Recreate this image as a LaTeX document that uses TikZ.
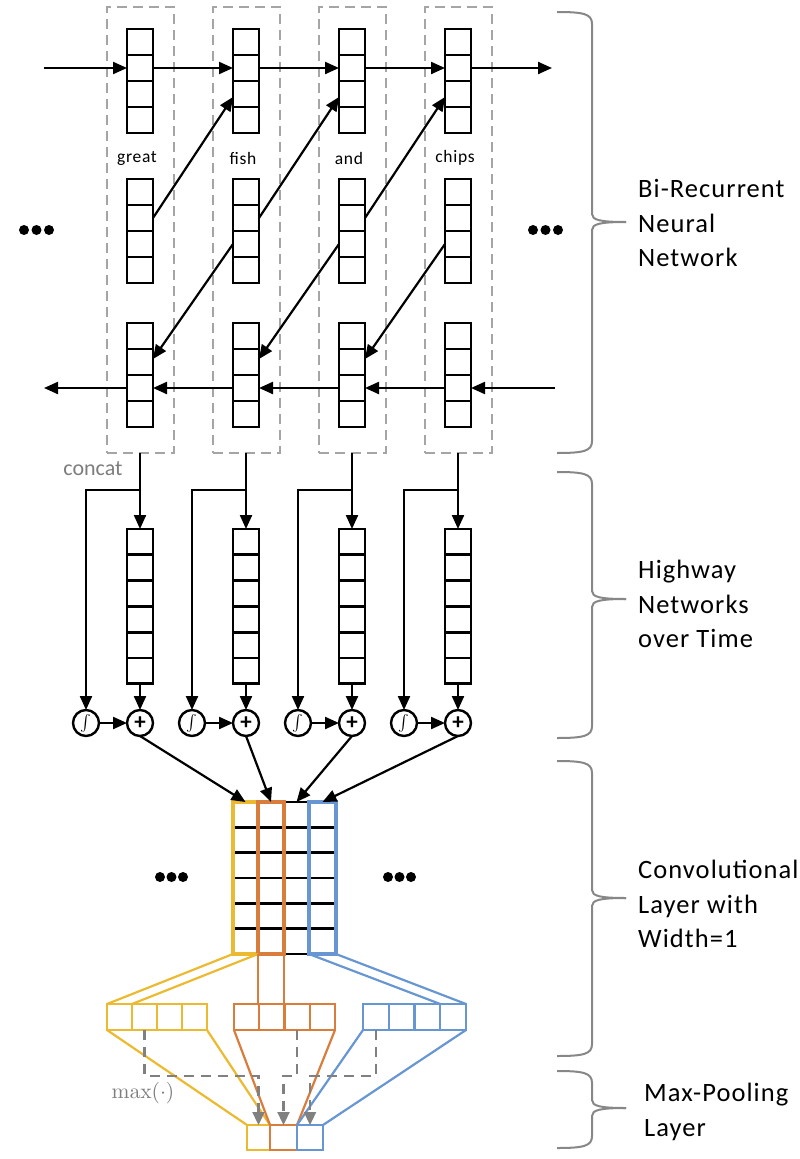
\documentclass[tikz,border=0pt]{standalone}
\usepackage[no-math]{fontspec}
\setmainfont{Carlito}
\usetikzlibrary{arrows.meta,calc}
\definecolor{cyel}{RGB}{236,186,48}
\definecolor{cora}{RGB}{217,125,60}
\definecolor{cblu}{RGB}{104,150,210}
\definecolor{dashgray}{RGB}{165,165,165}
\definecolor{bracegray}{RGB}{135,135,135}
\definecolor{txtgray}{RGB}{125,125,125}
\definecolor{maxgray}{RGB}{128,128,128}

\newcommand\mkstack[5]{%
  \pgfmathsetmacro\stkh{#4*#5}%
  \node[cellbox,minimum height=\stkh pt] (#1) at (#2,{#3+\stkh/2}) {};%
  \pgfmathtruncatemacro\stkn{#4-1}%
  \foreach \k in {1,...,\stkn}{\draw[cellline] ([yshift={-\k*#5}]#1.north west) -- ([yshift={-\k*#5}]#1.north east);}%
}
\newcommand\mkrow[7]{%
  \pgfmathsetmacro\roww{#4*#5}%
  \node[rowbox,draw=#7,minimum width=\roww pt,minimum height=#6pt] (#1) at ({#2+\roww/2},{#3+#6/2}) {};%
  \pgfmathtruncatemacro\rown{#4-1}%
  \foreach \k in {1,...,\rown}{\draw[#7,line width=2.2pt] ([xshift={\k*#5}]#1.north west) -- ([xshift={\k*#5}]#1.south west);}%
}

\begin{document}
\begin{tikzpicture}[x=1pt,y=-1pt,
 cellbox/.style={draw=black,line width=2.8pt,inner sep=0pt,outer sep=0pt,minimum width=26pt},
 cellline/.style={black,line width=2.8pt},
 rowbox/.style={line width=2.2pt,inner sep=0pt,outer sep=0pt},
 arr/.style={line width=2.2pt,-{Triangle[length=14pt,width=12pt]}},
 dbox/.style={draw=dashgray,line width=2pt,dash pattern=on 10pt off 6pt,inner sep=0pt,outer sep=0pt,minimum width=67pt,minimum height=446pt},
 circ/.style={circle,draw,line width=2.4pt,minimum size=26pt,inner sep=0pt,outer sep=0pt},
 bracepath/.style={draw=bracegray,line width=2pt},
 lab/.style={font=\fontsize{26.5}{34.5}\selectfont\addfontfeature{LetterSpace=4},align=left,anchor=west,inner sep=0pt},
 word/.style={font=\fontsize{17.5}{20}\selectfont\addfontfeature{LetterSpace=4},inner sep=0pt},
 colbox/.style={inner sep=0pt,outer sep=0pt,minimum width=#1,minimum height=152pt},
 maxarr/.style={draw=maxgray,line width=2.2pt,dash pattern=on 10pt off 7pt,-{Triangle[length=13pt,width=12pt,fill=maxgray]}},
 colline/.style={line width=2.2pt}
]
\useasboundingbox (0,0) rectangle (800,1159);

% ---------- Bi-RNN ----------
\foreach \i/\w in {0/great,1/fish,2/and,3/chips}{
  \pgfmathsetmacro\X{140+106*\i}
  \node[dbox] (d\i) at (\X,230) {};
  \mkstack{f\i}{\X}{29}{4}{26}
  \mkstack{m\i}{\X}{179}{4}{26}
  \mkstack{b\i}{\X}{323}{4}{26}
  \node[word] (w\i) at ({\X-3},158) {\w};
}
\coordinate (fin) at (44,68);
\coordinate (fout) at (552,68);
\coordinate (bin) at (555,388);
\coordinate (bout) at (44,388);
\draw[arr] (fin) -- ([yshift=-39]f0.north west);
\foreach \i/\j in {0/1,1/2,2/3}{
  \draw[arr] ([yshift=-39]f\i.north east) -- ([yshift=-39]f\j.north west);
  \draw[arr] ([yshift=-39]m\i.north east) -- ([yshift=-68]f\j.north west);
  \draw[arr] ([yshift=-65]m\j.north west) -- ([yshift=-36]b\i.north east);
  \draw[arr] ([yshift=-65]b\j.north west) -- ([yshift=-65]b\i.north east);
}
\draw[arr] ([yshift=-39]f3.north east) -- (fout);
\draw[arr] (bin) -- ([yshift=-65]b3.north east);
\draw[arr] ([yshift=-65]b0.north west) -- (bout);
\foreach \x in {24,36.5,49,533,545.5,558}{\fill (\x,230) circle[radius=5pt];}

% ---------- Highway ----------
\node[font=\fontsize{22}{22}\selectfont,text=txtgray,inner sep=0pt] (concat) at (93,469) {concat};
\foreach \i in {0,1,2,3}{
  \pgfmathsetmacro\X{140+106*\i}
  \mkstack{h\i}{\X}{529}{6}{25.8}
  \node[circ] (s\i) at ({\X-54},723) {\scalebox{1.6}{$\int$}};
  \node[circ] (p\i) at (\X,723) {\fontsize{23}{23}\selectfont\textbf{+}};
  \coordinate (br\i) at (\X,490);
  \draw[arr] (d\i.south) -- (h\i.north);
  \draw[arr] (br\i) -| (s\i.north);
  \draw[arr] (h\i.south) -- (p\i.north);
  \draw[arr] (s\i.east) -- (p\i.west);
}

% ---------- Convolution ----------
\node[colbox=25pt] (c1) at (245.5,878) {};
\node[colbox=26pt] (c2) at (271,878) {};
\node[colbox=25pt] (c3) at (296.5,878) {};
\node[colbox=27pt] (c4) at (322.5,878) {};
\foreach \k in {0,...,6}{
  \draw[cellline] ($(c1.north west)+(0,{\k*152/6})$) -- ($(c4.north east)+(0,{\k*152/6})$);
}
\draw[cyel,line width=3.8pt] (c1.north west) rectangle (c1.south east);
\draw[cora,line width=3.8pt] (c2.north west) rectangle (c2.south east);
\draw[cblu,line width=3.8pt] (c4.north west) rectangle (c4.south east);
\draw[arr] (p0.south) -- (c1.north);
\draw[arr] (p1.south) -- (c2.north);
\draw[arr] (p2.south) -- (c3.north);
\draw[arr] (p3.south) -- (c4.north);
\foreach \x in {160,171.5,183,388,399.5,411}{\fill (\x,877) circle[radius=5pt];}

% feature maps
\mkrow{ym}{107}{1004}{4}{25}{26}{cyel}
\mkrow{om}{234}{1004}{4}{25.25}{26}{cora}
\mkrow{bm}{363}{1004}{4}{25.75}{26}{cblu}
\draw[cyel,colline] (c1.south west) -- (ym.north west);
\draw[cyel,colline] (c1.south east) -- ([xshift=25]ym.north west);
\draw[cora,colline] (c2.south west) -- (c2.south west |- om.north);
\draw[cora,colline] (c2.south east) -- (c2.south east |- om.north);
\draw[cblu,colline] (c4.south west) -- ([xshift=-25.75]bm.north east);
\draw[cblu,colline] (c4.south east) -- (bm.north east);

% pooled
\node[rowbox,draw=cyel,minimum width=23pt,minimum height=25pt] (q1) at (258.5,1137.5) {};
\node[rowbox,draw=cora,minimum width=27pt,minimum height=25pt] (q2) at (283.5,1137.5) {};
\node[rowbox,draw=cblu,minimum width=26pt,minimum height=25pt] (q3) at (310,1137.5) {};
\draw[cyel,colline] (ym.south west) -- (q1.north west);
\draw[cyel,colline] (ym.south east) -- (q1.north east);
\draw[cora,colline] (om.south west) -- (q2.north west);
\draw[cora,colline] (om.south east) -- (q2.north east);
\draw[cblu,colline] (bm.south west) -- (q3.north west);
\draw[cblu,colline] (bm.south east) -- (q3.north east);

% max arrows
\draw[maxarr] ([xshift=37.5]ym.south west) |- ($(q1.north)+(0,-49)$) -- (q1.north);
\draw[maxarr] ([xshift=63.1]om.south west) |- ($(q2.north)+(0,-49)$) -- (q2.north);
\draw[maxarr] ([xshift=12.9]bm.south west) |- ($(q3.north)+(0,-49)$) -- (q3.north);
\node[text=txtgray,inner sep=0pt] (maxlab) at (143,1093) {\scalebox{2.15}{$\max(\cdot)$}};

% ---------- Braces and labels ----------
\foreach \t/\m/\b in {12/222/453, 472/599/738, 761/898/1056, 1071/1108/1148}{
  \draw[bracepath] (557,\t) .. controls (584,\t) and (592,{\t+2}) .. (592,{\t+12}) -- (592,{\m-8}) .. controls (592,{\m-2}) and (600,\m) .. (626,\m);
  \draw[bracepath] (557,\b) .. controls (584,\b) and (592,{\b-2}) .. (592,{\b-12}) -- (592,{\m+8}) .. controls (592,{\m+2}) and (600,\m) .. (626,\m);
}
\node[lab] (l1) at (638,223) {Bi-Recurrent\\Neural\\Network};
\node[lab] (l2) at (638,604) {Highway\\Networks\\over Time};
\node[lab] (l3) at (638,904) {Convolutional\\Layer with\\Width=1};
\node[lab] (l4) at (644,1112) {Max-Pooling\\Layer};
\end{tikzpicture}
\end{document}
